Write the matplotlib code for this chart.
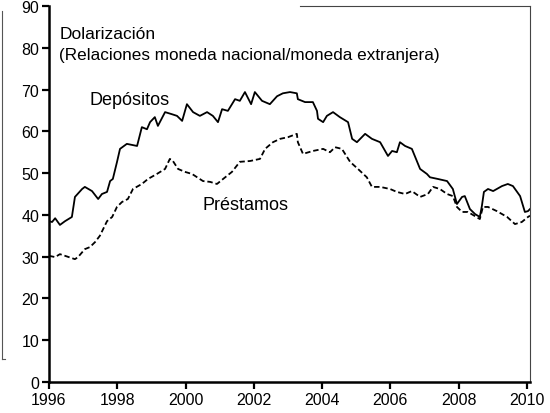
import matplotlib
matplotlib.use("Agg")
import matplotlib.pyplot as plt
from matplotlib.lines import Line2D

plt.rcParams['font.family'] = ['Liberation Sans', 'DejaVu Sans']

# Depósitos (serie continua)
anios_dep = [1996.00, 1996.09, 1996.18, 1996.32, 1996.47, 1996.67, 1996.76, 1996.97,
             1997.05, 1997.26, 1997.44, 1997.55, 1997.70, 1997.79, 1997.87, 1997.99,
             1998.08, 1998.28, 1998.58, 1998.72, 1998.87, 1998.96, 1999.10, 1999.19,
             1999.40, 1999.60, 1999.75, 1999.90, 2000.04, 2000.22, 2000.42, 2000.63,
             2000.80, 2000.95, 2001.07, 2001.24, 2001.45, 2001.59, 2001.74, 2001.92,
             2002.03, 2002.24, 2002.47, 2002.68, 2002.85, 2003.06, 2003.26, 2003.29,
             2003.50, 2003.73, 2003.85, 2003.88, 2004.03, 2004.14, 2004.32, 2004.52,
             2004.76, 2004.88, 2005.02, 2005.26, 2005.46, 2005.70, 2005.93, 2006.05,
             2006.19, 2006.28, 2006.43, 2006.63, 2006.87, 2007.07, 2007.16, 2007.39,
             2007.66, 2007.83, 2007.95, 2008.10, 2008.18, 2008.33, 2008.48, 2008.62,
             2008.68, 2008.74, 2008.86, 2009.01, 2009.27, 2009.44, 2009.59, 2009.80,
             2009.94, 2010.03, 2010.09]
depositos = [38.5, 38.3, 39.2, 37.6, 38.5, 39.5, 44.3, 46.2,
             46.7, 45.7, 43.8, 45.0, 45.5, 48.1, 48.6, 52.6,
             55.8, 57.0, 56.5, 61.0, 60.5, 62.2, 63.4, 61.3,
             64.6, 64.1, 63.7, 62.5, 66.5, 64.6, 63.7, 64.6,
             63.7, 62.2, 65.3, 64.9, 67.7, 67.3, 69.4, 66.5,
             69.4, 67.3, 66.5, 68.4, 69.1, 69.4, 69.1, 67.7,
             67.0, 67.0, 64.9, 63.0, 62.2, 63.7, 64.6, 63.4,
             62.2, 58.2, 57.4, 59.4, 58.2, 57.4, 54.1, 55.3,
             55.0, 57.4, 56.5, 55.8, 51.0, 49.8, 49.0, 48.6,
             48.1, 46.2, 42.6, 44.3, 44.5, 41.4, 40.2, 39.5,
             42.1, 45.5, 46.2, 45.7, 46.9, 47.4, 46.9, 44.5,
             40.7, 40.9, 41.4]

# Préstamos (serie punteada)
anios_pre = [1996.00, 1996.18, 1996.32, 1996.47, 1996.76, 1996.85, 1997.05, 1997.20,
             1997.35, 1997.49, 1997.70, 1997.85, 1997.99, 1998.14, 1998.31, 1998.46,
             1998.72, 1998.90, 1999.16, 1999.40, 1999.54, 1999.63, 1999.78, 1999.98,
             2000.19, 2000.34, 2000.51, 2000.72, 2000.92, 2001.10, 2001.36, 2001.59,
             2001.89, 2002.18, 2002.33, 2002.56, 2002.77, 2003.00, 2003.26, 2003.29,
             2003.44, 2003.73, 2004.03, 2004.23, 2004.38, 2004.58, 2004.82, 2005.05,
             2005.31, 2005.46, 2005.70, 2005.99, 2006.19, 2006.43, 2006.63, 2006.87,
             2007.10, 2007.25, 2007.45, 2007.66, 2007.83, 2007.95, 2008.10, 2008.27,
             2008.48, 2008.62, 2008.71, 2008.86, 2009.12, 2009.42, 2009.65, 2009.85,
             2010.03, 2010.09]
prestamos = [30.2, 29.9, 30.6, 30.2, 29.4, 29.9, 31.8, 32.3,
             33.5, 35.0, 38.5, 39.5, 41.9, 43.1, 43.8, 46.2,
             47.4, 48.6, 49.8, 51.0, 53.4, 52.9, 51.0, 50.3,
             49.8, 49.0, 48.1, 47.9, 47.4, 48.6, 50.3, 52.7,
             52.9, 53.4, 55.8, 57.4, 58.2, 58.6, 59.4, 57.4,
             54.6, 55.3, 55.8, 55.0, 56.2, 55.8, 52.7, 51.0,
             49.0, 46.7, 46.7, 46.2, 45.5, 45.0, 45.7, 44.3,
             45.0, 46.7, 46.2, 45.0, 44.5, 41.9, 40.7, 40.7,
             39.7, 39.0, 41.9, 41.9, 40.9, 39.5, 37.8, 38.3,
             39.5, 39.8]

ticks_x = [1996, 1998, 2000, 2002, 2004, 2006, 2008, 2010]
ticks_y = [0, 10, 20, 30, 40, 50, 60, 70, 80, 90]

fig = plt.figure(figsize=(5.5, 4.14), dpi=100)
ax = fig.add_axes([49 / 550, 1 - 383 / 414, 481 / 550, 376 / 414])

ax.plot(anios_dep, depositos, color='black', linewidth=1.3)
ax.plot(anios_pre, prestamos, color='black', linewidth=1.3, linestyle=(0, (3, 1.6)))

ax.set_xlim(1996, 2010.09)
ax.set_ylim(0, 90)
ax.set_xticks(ticks_x)
ax.set_yticks(ticks_y)
ax.tick_params(direction='out', length=5, width=1.6, labelsize=11.5, pad=2)

ax.spines['left'].set_linewidth(1.8)
ax.spines['bottom'].set_linewidth(1.8)
ax.spines['top'].set_visible(False)
ax.spines['right'].set_linewidth(0.8)
ax.spines['right'].set_color('#444444')

# Textos
ax.text(1996.3, 83.3, "Dolarización", fontsize=12.5, va='center')
ax.text(1996.3, 78.5, "(Relaciones moneda nacional/moneda extranjera)", fontsize=12.3, va='center')
ax.text(1997.2, 67.7, "Depósitos", fontsize=13, va='center')
ax.text(2000.5, 42.6, "Préstamos", fontsize=13, va='center')

# Bordes sueltos del recorte original
fig.add_artist(Line2D([2 / 550, 2 / 550], [1 - 12 / 414, 1 - 360 / 414], color='#555555', linewidth=0.8))
fig.add_artist(Line2D([2 / 550, 5 / 550], [1 - 360 / 414, 1 - 360 / 414], color='#555555', linewidth=0.8))
fig.add_artist(Line2D([300 / 550, 530 / 550], [1 - 7 / 414, 1 - 7 / 414], color='#444444', linewidth=0.8))

fig.savefig("out.png", dpi=100)
